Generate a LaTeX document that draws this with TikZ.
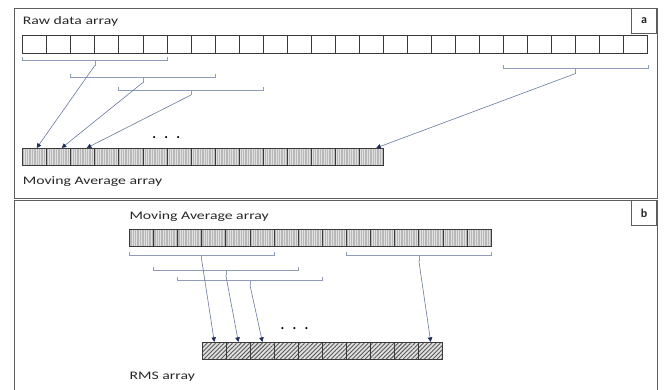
\documentclass[tikz,border=0pt]{standalone}
\usepackage{graphicx}
\usepackage{fontspec}
\setmainfont{Carlito}
\usetikzlibrary{arrows.meta,patterns.meta,calc}

\definecolor{framec}{HTML}{5E5E5E}
\definecolor{cellc}{HTML}{3A3A3A}
\definecolor{bracec}{HTML}{8E9CBA}
\definecolor{linkc}{HTML}{6878A2}
\definecolor{tipc}{HTML}{1E2C5C}
\definecolor{txtc}{HTML}{262626}

% labels are set a little wide
\newcommand\widetext[1]{\scalebox{1.37}[1]{#1}}

% bracket under cells #1..#2 at height #3, with its tip named #4
\newcommand\spanbrace[4]{%
  \path (#1.south west |- 0,#3) coordinate (#4-l)
        (#2.south east |- 0,#3) coordinate (#4-r);
  \draw[brace] ([yshift=3.5pt]#4-l) -- (#4-l) -- (#4-r) -- ([yshift=3.5pt]#4-r);
  \draw[brace] ($(#4-l)!0.5!(#4-r)$) -- ++(0,5) coordinate (#4);
}

\begin{document}
\begin{tikzpicture}[x=1pt,y=-1pt,
  panel/.style={draw=framec,line width=0.9pt},
  tag/.style={draw=framec,line width=0.9pt,minimum width=25pt,minimum height=25pt,
    inner sep=0,anchor=north east,font=\fontsize{12}{14}\selectfont\bfseries,text=txtc},
  label/.style={anchor=west,inner sep=0,text=txtc,font=\fontsize{11.5}{13}\selectfont},
  rawcell/.style={draw=cellc,line width=0.8pt,fill=white,minimum width=24.04pt,
    minimum height=18pt,inner sep=0},
  avgcell/.style={draw=cellc,line width=0.8pt,minimum height=17.4pt,inner sep=0,
    preaction={fill=black!28},
    pattern={Lines[angle=90,distance=2.4pt,line width=0.7pt]},pattern color=black!12},
  rmscell/.style={draw=cellc,line width=0.8pt,minimum width=24.04pt,minimum height=17pt,
    inner sep=0,preaction={fill=black!12},
    pattern={Lines[angle=45,distance=3pt,line width=0.9pt]},pattern color=black!65},
  brace/.style={draw=bracec,line width=0.6pt},
  link/.style={draw=linkc,line width=0.6pt,
    -{Triangle[length=4.5pt,width=4.5pt,color=tipc]}},
  dots/.style={inner sep=0,anchor=base,text=black,
    font=\fontsize{14}{14}\selectfont\bfseries}
]
\useasboundingbox (0,0) rectangle (665,389);

% panel frames
\draw[panel] (14,8) rectangle (657,198.8);
\draw[panel] (14,392) -- (14,200.2) -- (657,200.2) -- (657,392);
\node[tag] (taga) at (657,8) {a};
\node[tag] (tagb) at (657,200.2) {b};

% ---- panel a ----
\node[label] (rawlabel) at (22.7,21.5) {\widetext{Raw data array}};
\foreach \i in {1,...,26}
  \node[rawcell] (raw-\i) at ({22.7+(\i-0.5)*24.04},44) {};
\foreach \i in {1,...,15}
  \node[avgcell,minimum width=24.04pt] (ma-\i) at ({22.7+(\i-0.5)*24.04},157) {};
\node[label] (malabel) at (22.7,181.5) {\widetext{Moving Average array}};

\spanbrace{raw-1}{raw-6}{60.5}{ba1}
\spanbrace{raw-3}{raw-8}{77.5}{ba2}
\spanbrace{raw-5}{raw-10}{90}{ba3}
\spanbrace{raw-21}{raw-26}{68.5}{ba4}

\draw[link] (ba1) -- ([xshift=2pt]ma-1.north);
\draw[link] (ba2) -- ([xshift=3pt]ma-2.north);
\draw[link] (ba3) -- ([xshift=4pt]ma-3.north);
\draw[link] (ba4) -- ([xshift=5pt]ma-15.north);
\node[dots] (dotsa) at (166.3,138) {.\hspace{8.3pt}.\hspace{8.3pt}.};

% ---- panel b ----
\node[label] (mblabel) at (129.3,216.5) {\widetext{Moving Average array}};
\foreach \i in {1,...,15}
  \node[avgcell,minimum width=24.13pt] (mb-\i) at ({129.3+(\i-0.5)*24.13},238) {};
\foreach \i in {1,...,10}
  \node[rmscell] (rms-\i) at ({202.3+(\i-0.5)*24.04},350.8) {};
\node[label] (rmslabel) at (129.3,376.5) {\widetext{RMS array}};

\spanbrace{mb-1}{mb-6}{255}{bb1}
\spanbrace{mb-2}{mb-7}{270}{bb2}
\spanbrace{mb-3}{mb-8}{280}{bb3}
\spanbrace{mb-10}{mb-15}{255.7}{bb4}

\draw[link] (bb1) -- (rms-1.north);
\draw[link] (bb2) -- (rms-2.north);
\draw[link] (bb3) -- (rms-3.north);
\draw[link] (bb4) -- (rms-10.north);
\node[dots] (dotsb) at (294.5,329.5) {.\hspace{8.3pt}.\hspace{8.3pt}.};
\end{tikzpicture}
\end{document}
